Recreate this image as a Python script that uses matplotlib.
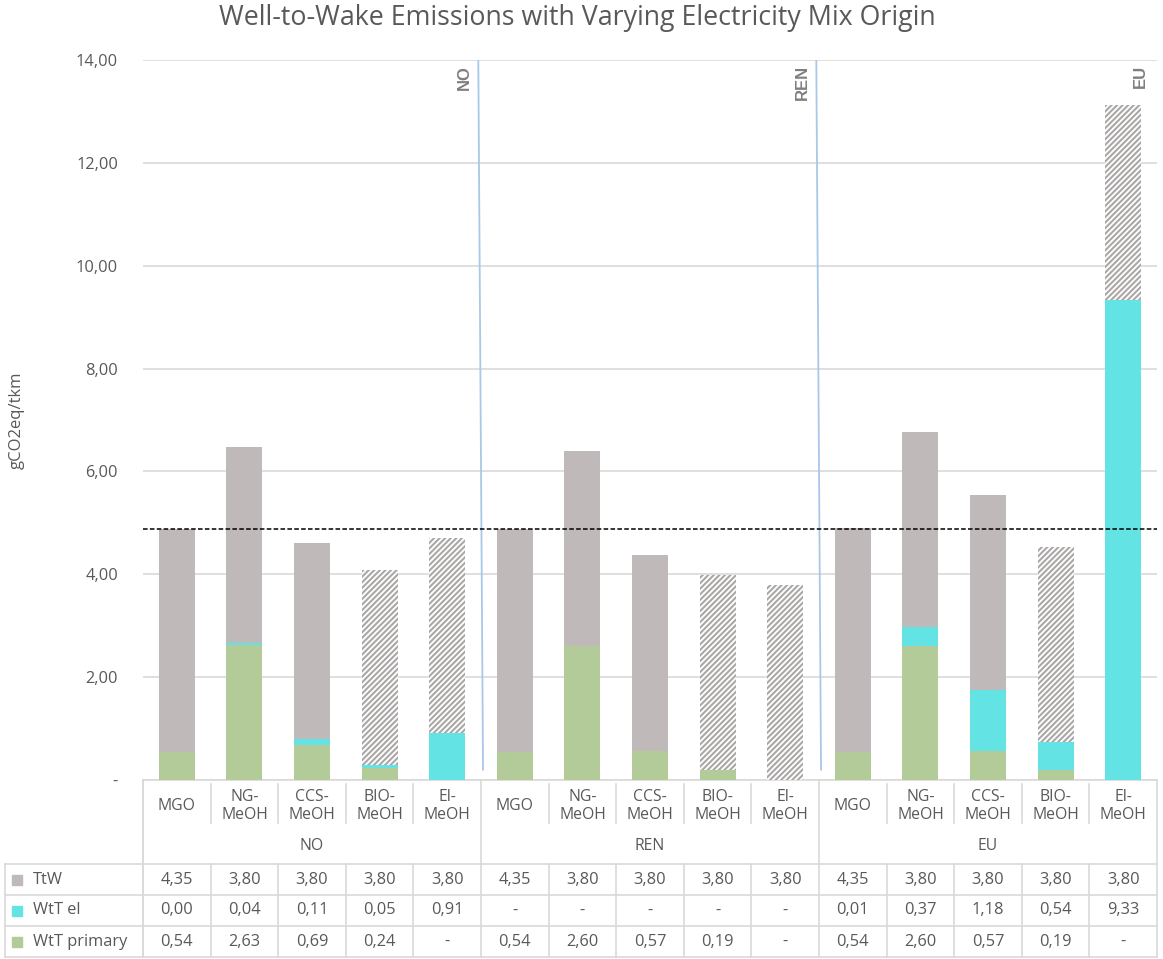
import matplotlib
matplotlib.use("Agg")
import matplotlib.pyplot as plt
from matplotlib.transforms import blended_transform_factory
from matplotlib.patches import Rectangle

plt.rcParams['font.family'] = ['Open Sans', 'DejaVu Sans']
plt.rcParams['hatch.color'] = '#ABA7A7'
plt.rcParams['hatch.linewidth'] = 1.5

# ---- data -------------------------------------------------------------
groups = ["NO", "REN", "EU"]
fuels = ["MGO", "NG-\nMeOH", "CCS-\nMeOH", "BIO-\nMeOH", "El-\nMeOH"]
series_names = ["TtW", "WtT el", "WtT primary"]

ttw = [4.35, 3.80, 3.80, 3.80, 3.80,
       4.35, 3.80, 3.80, 3.80, 3.80,
       4.35, 3.80, 3.80, 3.80, 3.80]
wtt_el = [0.00, 0.04, 0.11, 0.05, 0.91,
          None, None, None, None, None,
          0.01, 0.37, 1.18, 0.54, 9.33]
wtt_primary = [0.54, 2.63, 0.69, 0.24, None,
               0.54, 2.60, 0.57, 0.19, None,
               0.54, 2.60, 0.57, 0.19, None]
# fuels whose tank-to-wake CO2 is biogenic (drawn hatched)
biogenic = [False, False, False, True, True] * 3
reference_level = 4.89   # MGO well-to-wake, NO mix

yticks = [0, 2, 4, 6, 8, 10, 12, 14]

# ---- style ------------------------------------------------------------
c_ttw = '#C0B9B9'
c_el = '#63E3E3'
c_prim = '#B3CB98'
c_text = '#595959'
c_grid = '#D9D9D9'
c_sep = '#A9C8E6'
fs = 11.8

W, H = 1163, 959
fig = plt.figure(figsize=(W / 100, H / 100), dpi=100)

# pixel overlay used for the table layout
pix = fig.add_axes([0, 0, 1, 1], zorder=0)
pix.set_xlim(0, W)
pix.set_ylim(H, 0)
pix.axis('off')

ax = fig.add_axes([143 / W, 179 / H, 1014 / W, 720 / H], zorder=1)
ax.patch.set_alpha(0)

n = len(ttw)
x = list(range(n))
vals = lambda s: [0 if v is None else v for v in s]
prim = vals(wtt_primary)
el = vals(wtt_el)
bw = 0.53

ax.bar(x, prim, bw, color=c_prim, zorder=3)
ax.bar(x, el, bw, bottom=prim, color=c_el, zorder=3)
base = [p + e for p, e in zip(prim, el)]
for i in x:
    if biogenic[i]:
        ax.bar(i, ttw[i], bw, bottom=base[i], facecolor='white',
               edgecolor='#ABA7A7', hatch='//////', linewidth=0, zorder=3)
    else:
        ax.bar(i, ttw[i], bw, bottom=base[i], color=c_ttw, zorder=3)

ax.set_xlim(-0.5, n - 0.5)
ax.set_ylim(0, 14)
ax.set_yticks(yticks)
ax.set_yticklabels(['-' if t == 0 else f"{t:.2f}".replace('.', ',') for t in yticks],
                   color=c_text, fontsize=fs)
ax.tick_params(axis='y', length=0, pad=18)
ax.set_xticks([])
ax.grid(axis='y', color=c_grid, linewidth=1.2, zorder=0)
for s in ax.spines.values():
    s.set_visible(False)
ax.set_ylabel("gCO2eq/tkm", color=c_text, fontsize=12)
ax.yaxis.set_label_coords(-0.117, 0.5)

# reference level
ax.axhline(reference_level, color='black', linestyle=(0, (3, 1.5)),
           linewidth=1.1, zorder=4)

# group separators and labels
for g, name in enumerate(groups):
    xb = (g + 1) * 5 - 0.5
    if g < len(groups) - 1:
        ax.plot([xb - 0.04, xb + 0.03], [14, 0.2], color=c_sep,
                linewidth=1.3, zorder=2)
    ax.text(xb - 0.24, 13.9, name, rotation=90, ha='center', va='top',
            fontsize=12, fontweight='bold', color='#7F7F7F', zorder=5,
            family=['Liberation Sans Narrow', 'Liberation Sans', 'DejaVu Sans'])

fig.text(0.496, 1 - 18 / H, "Well-to-Wake Emissions with Varying Electricity Mix Origin",
         fontsize=19.3, color=c_text, ha='center', va='center')

# ---- data table -------------------------------------------------------
tr = blended_transform_factory(ax.transData, pix.transData)
lk = dict(color=c_grid, linewidth=1.2, zorder=2)
y_top, y_cat = 780, 823
row_y = [864, 895, 926, 957]

# horizontal rules
pix.plot([143, 1157], [y_top, y_top], **lk)
for ry in row_y:
    pix.plot([5, 1157], [ry, ry], **lk)
pix.plot([5, 5], [row_y[0], row_y[-1]], **lk)
pix.plot([143, 143], [y_top, row_y[-1]], **lk)

for i in range(n + 1):
    xb = i - 0.5
    if i % 5 == 0:
        pix.plot([xb, xb], [y_top, row_y[-1]], transform=tr, **lk)
    else:
        pix.plot([xb, xb], [y_top + 4, y_cat], transform=tr, **lk)
        pix.plot([xb, xb], [row_y[0], row_y[-1]], transform=tr, **lk)

for i in x:
    pix.text(i, 806, fuels[i % 5], transform=tr, ha='center', va='center',
             fontsize=11.3, color=c_text, linespacing=1.2)
for g, name in enumerate(groups):
    pix.text(g * 5 + 2, 846, name, transform=tr, ha='center', va='center',
             fontsize=11.3, color=c_text)

rows = [ttw, wtt_el, wtt_primary]
cols = [c_ttw, c_el, c_prim]
for r, (name, data, col) in enumerate(zip(series_names, rows, cols)):
    yc = (row_y[r] + row_y[r + 1]) / 2
    pix.add_patch(Rectangle((12, yc - 5), 10, 10, color=col, zorder=3))
    pix.text(33, yc, name, ha='left', va='center', fontsize=fs, color=c_text)
    for i, v in enumerate(data):
        s = '-' if v is None else f"{v:.2f}".replace('.', ',')
        pix.text(i, yc, s, transform=tr, ha='center', va='center',
                 fontsize=fs, color=c_text)

fig.savefig("out.png", dpi=100)
